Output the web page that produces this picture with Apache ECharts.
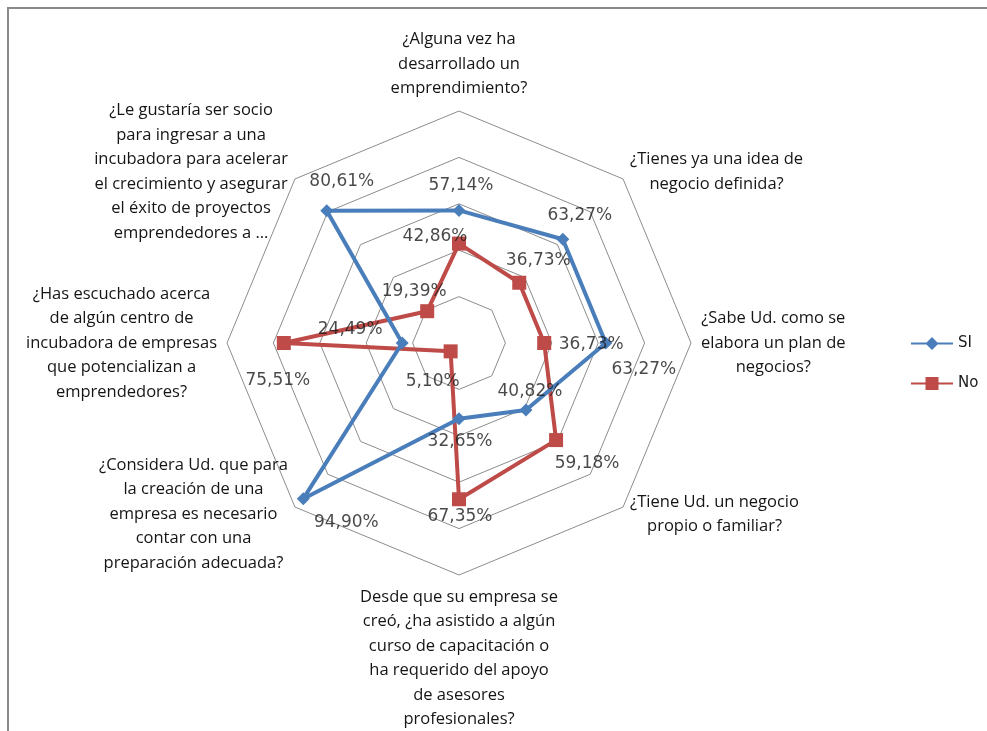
<!DOCTYPE html>
<html>
<head>
<meta charset="utf-8">
<script src="https://cdn.jsdelivr.net/npm/echarts@6/dist/echarts.min.js"></script>
<style>
  html, body { margin: 0; padding: 0; background: #fff; }
  #chart { width: 987px; height: 731px; }
</style>
</head>
<body>
<div id="chart"></div>
<script>
// preguntas, en el orden de las agujas del reloj desde arriba
const preguntas = [
    '¿Alguna vez ha\ndesarrollado un\nemprendimiento?',
    '¿Tienes ya una idea de\nnegocio definida?',
    '¿Sabe Ud. como se\nelabora un plan de\nnegocios?',
    '¿Tiene Ud. un negocio\npropio o familiar?',
    'Desde que su empresa se\ncreó, ¿ha asistido a algún\ncurso de capacitación o\nha requerido del apoyo\nde asesores\nprofesionales?',
    '¿Considera Ud. que para\nla creación de una\nempresa es necesario\ncontar con una\npreparación adecuada?',
    '¿Has escuchado acerca\nde algún centro de\nincubadora de empresas\nque potencializan a\nemprendedores?',
    '¿Le gustaría ser socio\npara ingresar a una\nincubadora para acelerar\nel crecimiento y asegurar\nel éxito de proyectos\nemprendedores a ...'
];
const valoresSi = [57.14, 63.27, 63.27, 40.82, 32.65, 94.90, 24.49, 80.61];
const valoresNo = [42.86, 36.73, 36.73, 59.18, 67.35, 5.10, 75.51, 19.39];

// desplazamiento de cada etiqueta respecto a su punto
const offsetSi = [[2, -25], [17, -24], [38, 27], [4, -18], [1, 23], [43, 24], [-52, -13], [15, -29]];
const offsetNo = [[-24, -7], [19, -22], [47, 2], [31, 23], [1, 17], [-18, 30], [-6, 38], [-13, -20]];

const AZUL = '#4A7EBB';
const ROJO = '#BE4B48';
const CENTRO = [459, 343];
const RADIO = 232;

// el radar de echarts avanza en sentido antihorario
const orden = [0, 7, 6, 5, 4, 3, 2, 1];
const reordenar = arr => orden.map(i => arr[i]);

function fmt(v) {
    return v.toFixed(2).replace('.', ',') + '%';
}

function etiquetas(valores, offsets) {
    return orden.map((i, k) => ({
        value: [valores[i], k],
        label: { offset: offsets[i] }
    }));
}

function initRadarChart() {
    const chart = echarts.init(document.getElementById('chart'));

    const labelStyle = {
        show: true,
        position: 'inside',
        fontFamily: 'DejaVu Sans',
        fontSize: 17,
        color: '#1a1a1a',
        formatter: p => fmt(p.value[0])
    };

    const option = {
        animation: false,
        graphic: [{
            type: 'rect',
            shape: { x: 8, y: 8, width: 1200, height: 1000 },
            style: { fill: 'none', stroke: '#8a8a8a', lineWidth: 2 },
            silent: true
        }],
        legend: {
            orient: 'vertical',
            left: 906,
            top: 331,
            itemWidth: 42,
            itemHeight: 13,
            itemGap: 25,
            textStyle: { fontFamily: 'DejaVu Sans', fontSize: 15, color: '#1a1a1a' },
            data: [
                { name: 'SI', icon: 'path://M0,5.5H42V7.5H0Z M21,0L27.5,6.5L21,13L14.5,6.5Z' },
                { name: 'No', icon: 'path://M0,5.5H42V7.5H0Z M14.5,0H27.5V13H14.5Z' }
            ]
        },
        radar: {
            center: CENTRO,
            radius: RADIO,
            startAngle: 90,
            splitNumber: 5,
            shape: 'polygon',
            nameGap: 10,
            indicator: reordenar(preguntas).map(n => ({ name: n, min: 0, max: 100 })),
            axisName: {
                formatter: n => '{q|' + n + '}',
                rich: {
                    q: {
                        align: 'center',
                        fontFamily: 'Open Sans',
                        fontSize: 16.5,
                        lineHeight: 24.5,
                        color: '#151515'
                    }
                }
            },
            axisLine: { show: false },
            splitArea: { show: false },
            splitLine: { lineStyle: { color: '#8c8c8c', width: 1 } }
        },
        polar: { center: CENTRO, radius: RADIO },
        angleAxis: {
            type: 'category',
            data: reordenar(preguntas),
            startAngle: 90,
            clockwise: false,
            boundaryGap: false,
            show: false
        },
        radiusAxis: { min: 0, max: 100, show: false },
        series: [{
            name: 'SI',
            type: 'radar',
            symbol: 'diamond',
            symbolSize: 13,
            lineStyle: { color: AZUL, width: 4 },
            itemStyle: { color: AZUL },
            z: 3,
            data: [{ name: 'SI', value: reordenar(valoresSi) }]
        }, {
            name: 'No',
            type: 'radar',
            symbol: 'rect',
            symbolSize: 14,
            lineStyle: { color: ROJO, width: 4 },
            itemStyle: { color: ROJO },
            z: 2,
            data: [{ name: 'No', value: reordenar(valoresNo) }]
        }, {
            name: 'etiquetasSi',
            type: 'scatter',
            coordinateSystem: 'polar',
            symbolSize: 0,
            silent: true,
            z: 5,
            label: labelStyle,
            data: etiquetas(valoresSi, offsetSi)
        }, {
            name: 'etiquetasNo',
            type: 'scatter',
            coordinateSystem: 'polar',
            symbolSize: 0,
            silent: true,
            z: 5,
            label: labelStyle,
            data: etiquetas(valoresNo, offsetNo)
        }]
    };

    chart.setOption(option);
}

window.onload = function() {
    initRadarChart();
};
</script>
</body>
</html>
